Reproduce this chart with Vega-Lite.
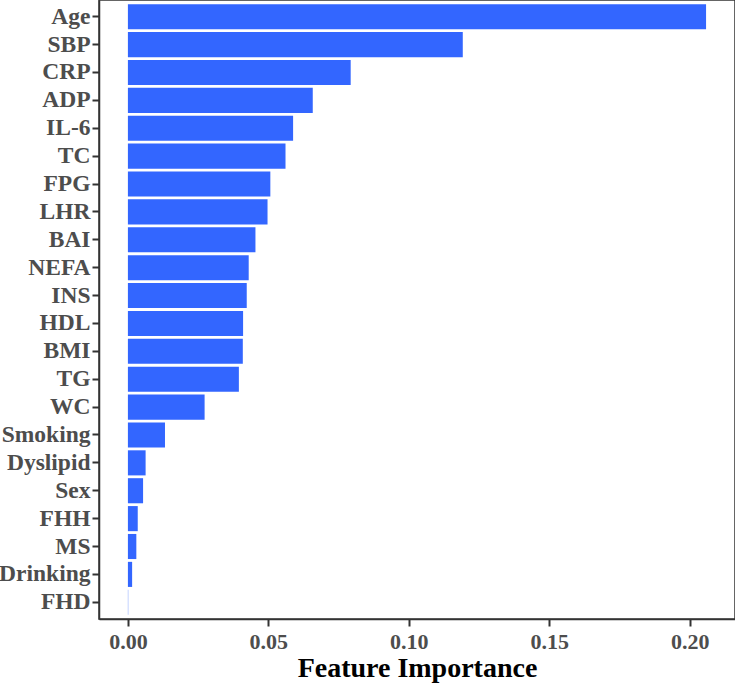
{
  "$schema": "https://vega.github.io/schema/vega-lite/v6.json",
  "autosize": "none",
  "width": 636,
  "height": 619,
  "padding": {"left": 99, "top": 0, "right": 0, "bottom": 68},
  "background": "white",
  "config": {
    "view": {"stroke": "#333333", "strokeWidth": 1.5},
    "font": "Liberation Serif"
  },
  "data": {
    "values": [
      {"feature": "Age", "importance": 0.2058},
      {"feature": "SBP", "importance": 0.1192},
      {"feature": "CRP", "importance": 0.0793},
      {"feature": "ADP", "importance": 0.0658},
      {"feature": "IL-6", "importance": 0.0588},
      {"feature": "TC", "importance": 0.0561},
      {"feature": "FPG", "importance": 0.0507},
      {"feature": "LHR", "importance": 0.0497},
      {"feature": "BAI", "importance": 0.0454},
      {"feature": "NEFA", "importance": 0.0430},
      {"feature": "INS", "importance": 0.0423},
      {"feature": "HDL", "importance": 0.0410},
      {"feature": "BMI", "importance": 0.0409},
      {"feature": "TG", "importance": 0.0395},
      {"feature": "WC", "importance": 0.0273},
      {"feature": "Smoking", "importance": 0.0132},
      {"feature": "Dyslipid", "importance": 0.0063},
      {"feature": "Sex ", "importance": 0.0054},
      {"feature": "FHH", "importance": 0.0035},
      {"feature": "MS", "importance": 0.0030},
      {"feature": "Drinking", "importance": 0.0015},
      {"feature": "FHD", "importance": 0.0001}
    ]
  },
  "mark": {"type": "bar", "color": "#3366FF"},
  "encoding": {
    "x": {
      "field": "importance",
      "type": "quantitative",
      "scale": {"domain": [-0.01029, 0.2161], "nice": false, "zero": false},
      "axis": {
        "title": "Feature Importance",
        "values": [0, 0.05, 0.1, 0.15, 0.2],
        "format": ".2f",
        "grid": false,
        "domainColor": "#333333",
        "domainWidth": 1.5,
        "tickColor": "#333333",
        "tickWidth": 2,
        "tickSize": 7,
        "labelFont": "Liberation Serif",
        "labelFontWeight": "bold",
        "labelFontSize": 22,
        "labelColor": "#4D4D4D",
        "labelPadding": 5,
        "titleFont": "Liberation Serif",
        "titleFontWeight": "bold",
        "titleFontSize": 28,
        "titleColor": "#000000",
        "titlePadding": 2
      }
    },
    "y": {
      "field": "feature",
      "type": "nominal",
      "sort": {"field": "importance", "order": "descending"},
      "scale": {"paddingInner": 0.1, "paddingOuter": 0.15},
      "axis": {
        "title": null,
        "grid": false,
        "domainColor": "#333333",
        "domainWidth": 1.5,
        "tickColor": "#333333",
        "tickWidth": 2,
        "tickSize": 7,
        "labelFont": "Liberation Serif",
        "labelFontWeight": "bold",
        "labelFontSize": 23.5,
        "labelColor": "#4D4D4D",
        "labelPadding": 2
      }
    }
  }
}
